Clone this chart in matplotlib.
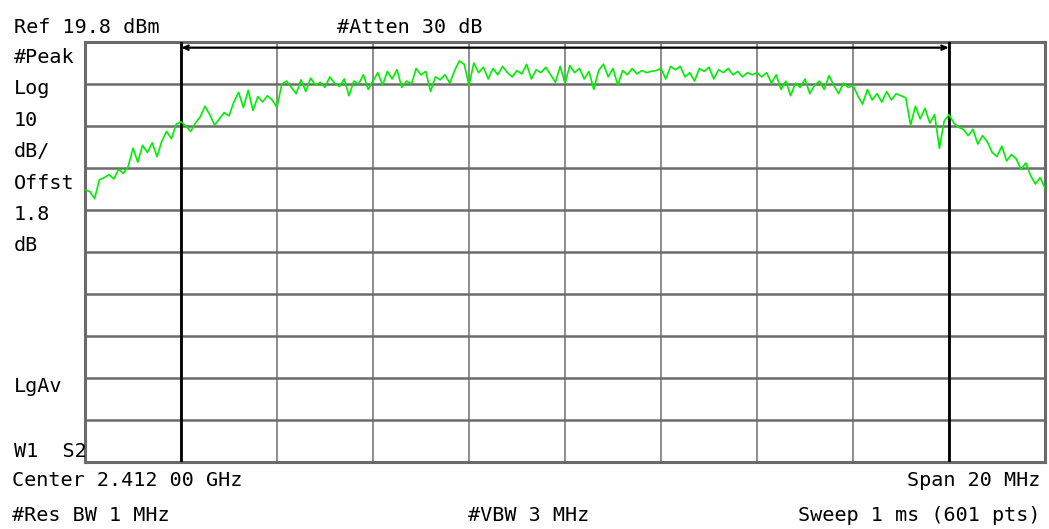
import numpy as np
import matplotlib
matplotlib.use("Agg")
import matplotlib.pyplot as plt

# analyzer settings shown on screen
center_mhz = 2412.0
span_mhz = 20.0
ref_dbm = 19.8
db_per_div = 10
marker_mhz = [2404.0, 2420.0]

# trace (dBm), every 3rd sweep point, left to right
trace_dbm = [
    -15.4, -15.8, -17.5, -13.0, -12.5, -11.8, -12.8, -10.5, -11.5, -9.8,
    -5.5, -8.8, -4.8, -6.5, -4.2, -7.5, -3.8, -1.5, -3.2, 0.2,
    0.8, -0.2, -1.5, 0.5, 2.0, 4.5, 2.5, 0.0, 1.5, 3.0,
    2.2, 5.5, 7.8, 4.2, 8.3, 3.5, 6.8, 5.5, 7.0, 6.0,
    4.2, 9.8, 10.5, 9.0, 7.5, 10.8, 8.0, 11.2, 9.5, 10.2,
    9.0, 11.5, 10.0, 9.2, 11.0, 7.0, 10.5, 9.8, 12.0, 8.5,
    10.5, 12.5, 9.5, 12.8, 11.0, 13.2, 9.0, 10.5, 9.8, 13.5,
    12.0, 12.8, 8.0, 11.5, 10.8, 12.0, 10.0, 13.0, 15.3, 14.5,
    9.5, 14.8, 12.5, 13.8, 11.0, 13.5, 12.0, 14.0, 12.5, 11.5,
    13.0, 12.2, 14.5, 11.0, 13.2, 12.5, 13.8, 12.0, 10.2, 14.0,
    10.0, 14.2, 12.5, 13.5, 11.0, 12.8, 8.5, 13.0, 14.5, 11.5,
    13.5, 9.5, 13.0, 12.0, 13.5, 12.2, 13.0, 12.5, 12.8, 13.0,
    13.5, 11.0, 14.0, 13.2, 14.0, 11.5, 12.5, 10.5, 13.5, 12.8,
    13.8, 11.0, 13.2, 12.5, 13.5, 12.0, 12.8, 11.5, 12.5, 12.0,
    12.5, 11.5, 12.5, 10.0, 12.0, 8.5, 10.5, 7.0, 10.0, 9.0,
    11.0, 7.5, 9.5, 10.5, 8.5, 11.8, 9.5, 7.5, 10.0, 9.0,
    9.5, 7.0, 5.0, 8.5, 6.0, 7.5, 5.5, 8.0, 6.0, 7.5,
    7.0, 6.5, 0.0, 4.5, 1.5, 4.0, 0.5, 2.5, -5.5, 1.0,
    2.5, 0.5, -0.5, -1.0, -2.5, -1.0, -4.5, -2.5, -4.0, -6.5,
    -7.5, -5.0, -8.5, -7.0, -8.0, -10.5, -9.0, -12.0, -14.0, -12.5,
    -15.0,
]

W, H = 1049, 529


def px(x, y):
    """Pixel position on the screen grab -> figure fraction."""
    return x / W, 1 - y / H


def put(fig, x, y, s, ha="left"):
    fx, fy = px(x, y)
    fig.text(fx, fy, s, ha=ha, va="baseline", fontsize=14.5,
             family="DejaVu Sans Mono", color="black")


def draw_screen():
    fig = plt.figure(figsize=(W / 100, H / 100), dpi=100)
    fig.patch.set_facecolor("white")
    ax = fig.add_axes([85 / W, (H - 462) / H, 960 / W, 420 / H])

    start = center_mhz - span_mhz / 2
    stop = center_mhz + span_mhz / 2
    bottom = ref_dbm - 10 * db_per_div
    freq = np.linspace(start, stop, len(trace_dbm))

    ax.set_xlim(start, stop)
    ax.set_ylim(bottom, ref_dbm)
    ax.set_xticks(np.linspace(start, stop, 11))
    ax.set_yticks(np.linspace(bottom, ref_dbm, 11))
    ax.tick_params(length=0, labelbottom=False, labelleft=False)
    ax.xaxis.grid(True, color="#8c8c8c", lw=1.4)
    ax.yaxis.grid(True, color="#6c6c6c", lw=1.8)
    for sp in ax.spines.values():
        sp.set_color("#6a6a6a")
        sp.set_linewidth(2.2)

    # marker lines and bandwidth arrow
    for m in marker_mhz:
        ax.axvline(m, color="black", lw=2.0, zorder=3)
    ax.annotate("", xy=(marker_mhz[1], ref_dbm - 1.35),
                xytext=(marker_mhz[0], ref_dbm - 1.35),
                arrowprops=dict(arrowstyle="<->,head_length=0.35,head_width=0.15",
                                lw=1.6, color="black",
                                shrinkA=0, shrinkB=0), zorder=4)

    ax.plot(freq, trace_dbm, color="#00ee00", lw=1.2, zorder=5)

    # annotation text around the graticule
    put(fig, 14, 33, "Ref 19.8 dBm")
    put(fig, 337, 33, "#Atten 30 dB")
    left_col = [("#Peak", 63), ("Log", 94), ("10", 126), ("dB/", 157),
                ("Offst", 189), ("1.8", 220), ("dB", 251),
                ("LgAv", 392), ("W1  S2", 457)]
    for s, y in left_col:
        put(fig, 14, y, s)
    put(fig, 12, 486, "Center 2.412 00 GHz")
    put(fig, 1040, 486, "Span 20 MHz", ha="right")
    put(fig, 12, 521, "#Res BW 1 MHz")
    put(fig, 468, 521, "#VBW 3 MHz")
    put(fig, 1040, 521, "Sweep 1 ms (601 pts)", ha="right")

    fig.savefig("out.png", dpi=100, facecolor="white")


if __name__ == "__main__":
    draw_screen()
